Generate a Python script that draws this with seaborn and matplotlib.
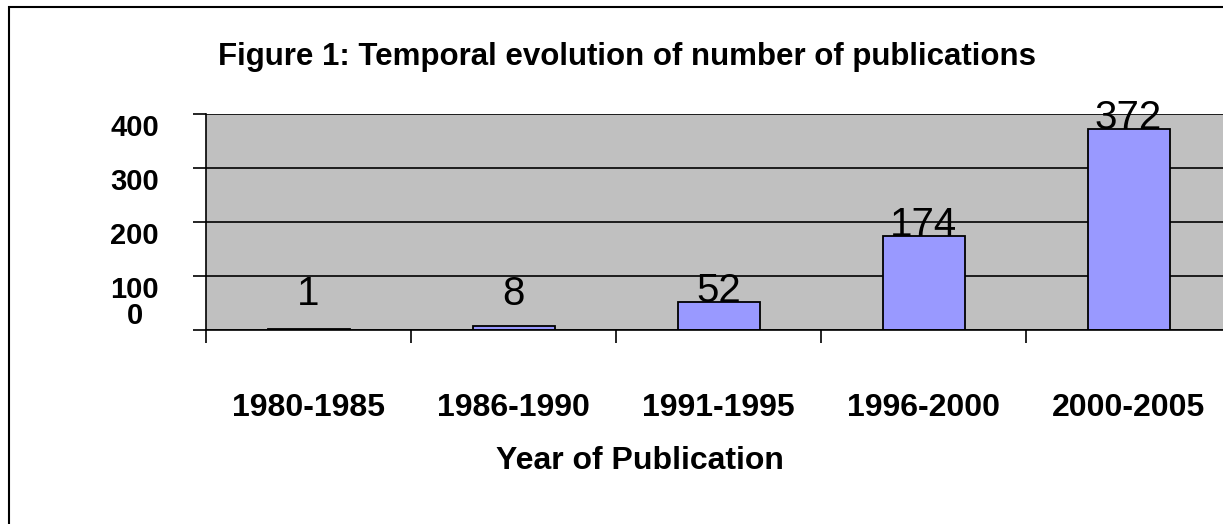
import matplotlib
matplotlib.use("Agg")
import matplotlib.pyplot as plt
import seaborn as sns
import pandas as pd
from matplotlib.patches import Rectangle

# ==================================================
# Data
# ==================================================

periods = ["1980-1985", "1986-1990", "1991-1995", "1996-2000", "2000-2005"]
publications = [1, 8, 52, 174, 372]
y_ticks = [0, 100, 200, 300, 400]

df = pd.DataFrame({"Period": periods, "Publications": publications})

# ==================================================
# Style
# ==================================================

sns.set_style("white")
plt.rcParams["font.family"] = ["Liberation Sans", "DejaVu Sans"]
plt.rcParams["text.color"] = "black"
plt.rcParams["xtick.color"] = "black"
plt.rcParams["ytick.color"] = "black"
plt.rcParams["axes.labelcolor"] = "black"

W, H = 1223, 524
fig = plt.figure(figsize=(W / 100, H / 100), dpi=100)
fig.patch.set_facecolor("white")

# plot area in pixel terms (right edge runs past the picture)
left, right, top, bottom = 206, 1231, 114, 330
ax = fig.add_axes([left / W, 1 - bottom / H, (right - left) / W, (bottom - top) / H])
ax.set_facecolor("#C0C0C0")

sns.barplot(
    data=df, x="Period", y="Publications", ax=ax,
    color="#9999FF", edgecolor="black", linewidth=1.3,
    width=0.4, saturation=1,
)

ax.set_xlim(-0.5, 4.5)
ax.set_ylim(0, 400)

# gridlines
ax.set_yticks(y_ticks)
ax.yaxis.grid(True, color="black", linewidth=1.2)
ax.set_axisbelow(True)

for s in ["top", "right"]:
    ax.spines[s].set_visible(False)
for s in ["left", "bottom"]:
    ax.spines[s].set_color("black")
    ax.spines[s].set_linewidth(1.2)

# y tick labels
ax.tick_params(axis="y", left=True, length=9.4, width=1.2, color="black", pad=42,
               labelsize=21, labelcolor="black")
for lab in ax.get_yticklabels():
    lab.set_fontweight("bold")
    lab.set_horizontalalignment("center")
    lab.set_verticalalignment("top")
ax.get_yticklabels()[0].set_verticalalignment("bottom")

# x ticks: labels in the middle, marks at category boundaries
ax.set_xticks(range(len(periods)))
ax.set_xticklabels(periods, fontsize=23, fontweight="bold", color="black")
ax.tick_params(axis="x", which="major", bottom=False, length=0, pad=45)
ax.set_xticks([i - 0.5 for i in range(len(periods) + 1)], minor=True)
ax.tick_params(axis="x", which="minor", bottom=True, length=9.4, width=1.2, color="black")

ax.set_xlabel("Year of Publication", fontsize=23, fontweight="bold", color="black")
ax.xaxis.set_label_coords((640 - left) / (right - left), -(461 - bottom) / (bottom - top))
ax.xaxis.label.set_verticalalignment("center")
ax.set_ylabel("")

# value labels
for i, v in enumerate(publications):
    ax.text(i, max(v, 47), str(v), ha="center", va="baseline", fontsize=29,
            color="black", clip_on=False)

# title
fig.text(627 / W, 1 - 57 / H, "Figure 1: Temporal evolution of number of publications",
         ha="center", va="center", fontsize=22.5, fontweight="bold", color="black")

# chart border
fig.patches.append(Rectangle((9 / W, -0.1), 1.2, 1 - 7 / H + 0.1, transform=fig.transFigure,
                             fill=False, edgecolor="black", linewidth=1.5))

plt.savefig("out.png", dpi=100)
plt.close()
